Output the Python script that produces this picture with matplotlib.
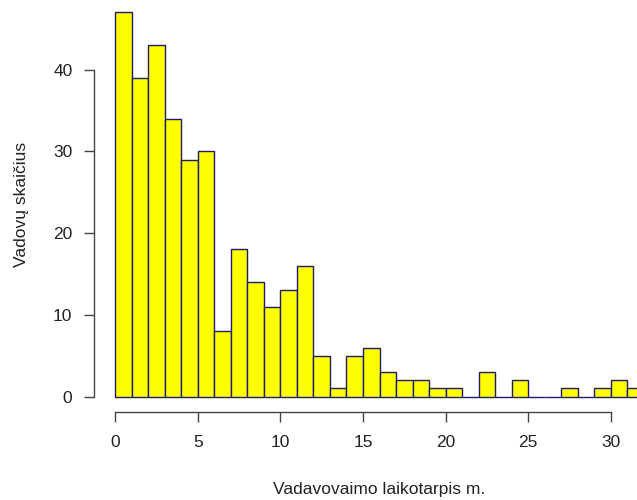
import numpy as np
import matplotlib
matplotlib.use("Agg")
import matplotlib.pyplot as plt

# Histogram bins (width 1 year) and counts
bin_edges = list(range(0, 33))
counts = [47, 39, 43, 34, 29, 30, 8, 18, 14, 11, 13, 16, 5, 1, 5, 6, 3, 2, 2, 1,
          1, 0, 3, 0, 2, 0, 0, 1, 0, 1, 2, 1]
x_ticks = [0, 5, 10, 15, 20, 25, 30]
y_ticks = [0, 10, 20, 30, 40]
x_label = "Vadavovaimo laikotarpis m."
y_label = "Vadovų skaičius"

plt.rcParams['font.family'] = ['Liberation Sans', 'DejaVu Sans']

W, H = 637, 500
fig = plt.figure(figsize=(W / 100, H / 100), dpi=100)
left_px, right_px, top_px, bot_px = 94, 665, -3, 412
ax = fig.add_axes([left_px / W, (H - bot_px) / H,
                   (right_px - left_px) / W, (bot_px - top_px) / H])

lefts = np.array(bin_edges[:-1])
widths = np.diff(bin_edges)
ax.bar(lefts, counts, width=widths, align='edge', color='#FFFF00',
       edgecolor='#1c1c6a', linewidth=1.0)

xmax = bin_edges[-1]
ymax = max(counts)
ax.set_xlim(-0.04 * xmax, xmax * 1.04)
ax.set_ylim(-0.04 * ymax, ymax * 1.04)

for s in ['top', 'right']:
    ax.spines[s].set_visible(False)
axis_col = '#444444'
ax.spines['bottom'].set_bounds(x_ticks[0], x_ticks[-1])
ax.spines['left'].set_bounds(y_ticks[0], y_ticks[-1])
for s in ['bottom', 'left']:
    ax.spines[s].set_color(axis_col)
    ax.spines[s].set_linewidth(1.0)

ax.set_xticks(x_ticks)
ax.set_yticks(y_ticks)
ax.tick_params(axis='both', length=7.5, width=1.0, color=axis_col,
               labelsize=12.5, labelcolor='#222222')
ax.tick_params(axis='x', pad=9)
ax.tick_params(axis='y', pad=8)

ax.set_xlabel(x_label, fontsize=12.5, color='#222222', labelpad=23)
ax.set_ylabel(y_label, fontsize=12.5, color='#222222', labelpad=17)

fig.savefig("out.png", dpi=100)
